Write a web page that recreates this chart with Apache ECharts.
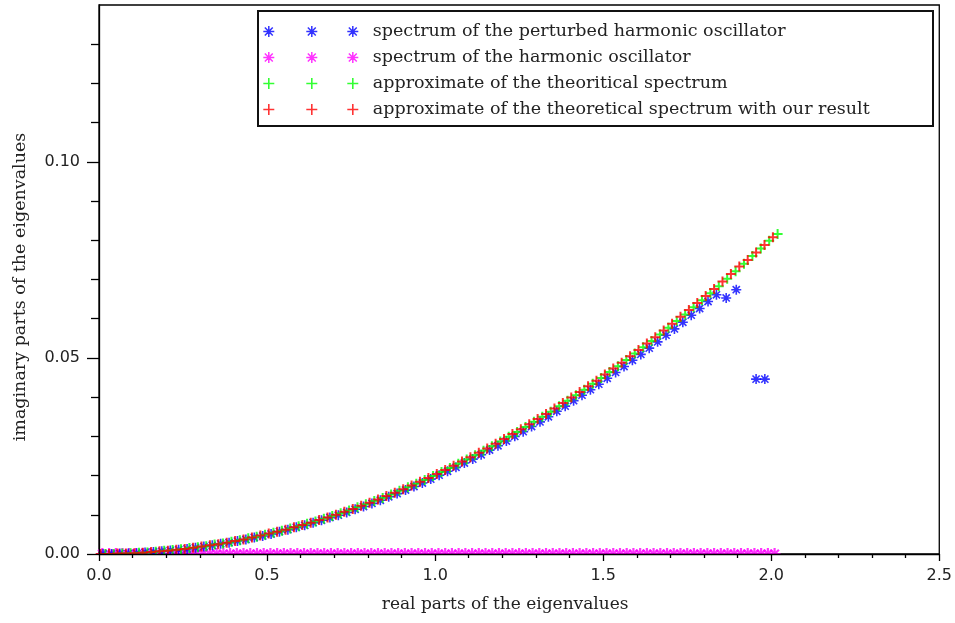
<!DOCTYPE html>
<html>
<head>
<meta charset="utf-8">
<script src="https://cdn.jsdelivr.net/npm/echarts@6/dist/echarts.min.js"></script>
<style>
html,body{margin:0;padding:0;background:#fff;}
#chart{width:955px;height:623px;}
</style>
</head>
<body>
<div id="chart"></div>
<script>
// ---- data ----
// spectrum of the harmonic oscillator (magenta, on the real axis)
const harmonicReal = [0.01,0.03,0.05,0.07,0.09,0.11,0.13,0.15,0.17,0.19,0.21,0.23,0.25,0.27,0.29,0.31,0.33,0.35,0.37,0.39,0.41,0.43,0.45,0.47,0.49,0.51,0.53,0.55,0.57,0.59,0.61,0.63,0.65,0.67,0.69,0.71,0.73,0.75,0.77,0.79,0.81,0.83,0.85,0.87,0.89,0.91,0.93,0.95,0.97,0.99,1.01,1.03,1.05,1.07,1.09,1.11,1.13,1.15,1.17,1.19,1.21,1.23,1.25,1.27,1.29,1.31,1.33,1.35,1.37,1.39,1.41,1.43,1.45,1.47,1.49,1.51,1.53,1.55,1.57,1.59,1.61,1.63,1.65,1.67,1.69,1.71,1.73,1.75,1.77,1.79,1.81,1.83,1.85,1.87,1.89,1.91,1.93,1.95,1.97,1.99,2.01];
const harmonicImag = [0,0,0,0,0,0,0,0,0,0,0,0,0,0,0,0,0,0,0,0,0,0,0,0,0,0,0,0,0,0,0,0,0,0,0,0,0,0,0,0,0,0,0,0,0,0,0,0,0,0,0,0,0,0,0,0,0,0,0,0,0,0,0,0,0,0,0,0,0,0,0,0,0,0,0,0,0,0,0,0,0,0,0,0,0,0,0,0,0,0,0,0,0,0,0,0,0,0,0,0,0];

// approximate of the theoretical spectrum with our result (red)
const ourResultReal = [0.005,0.030,0.055,0.080,0.105,0.130,0.155,0.180,0.205,0.230,0.255,0.280,0.305,0.330,0.355,0.380,0.405,0.430,0.455,0.480,0.505,0.530,0.555,0.580,0.605,0.630,0.655,0.680,0.705,0.730,0.755,0.780,0.805,0.830,0.855,0.880,0.905,0.930,0.955,0.980,1.005,1.030,1.055,1.080,1.105,1.130,1.155,1.180,1.205,1.230,1.255,1.280,1.305,1.330,1.355,1.380,1.405,1.430,1.455,1.480,1.505,1.530,1.555,1.580,1.605,1.630,1.655,1.680,1.705,1.730,1.755,1.780,1.805,1.830,1.855,1.880,1.905,1.930,1.955,1.980,2.005];
const ourResultImag = [0.0000,0.0000,0.0001,0.0001,0.0002,0.0003,0.0005,0.0007,0.0008,0.0011,
0.0013,0.0016,0.0019,0.0022,0.0025,0.0029,0.0033,0.0037,0.0042,0.0047,
0.0052,0.0057,0.0062,0.0068,0.0074,0.0080,0.0087,0.0093,0.0100,0.0108,
0.0115,0.0123,0.0131,0.0139,0.0148,0.0156,0.0165,0.0175,0.0184,0.0194,
0.0204,0.0214,0.0225,0.0236,0.0247,0.0258,0.0269,0.0281,0.0293,0.0306,
0.0318,0.0331,0.0344,0.0357,0.0371,0.0385,0.0399,0.0413,0.0428,0.0442,
0.0458,0.0473,0.0488,0.0504,0.0520,0.0537,0.0553,0.0570,0.0587,0.0605,
0.0622,0.0640,0.0658,0.0676,0.0695,0.0714,0.0733,0.0750,0.0769,0.0788,
0.0808];

// approximate of the theoritical spectrum (green)
const theoryReal = [0.019,0.044,0.069,0.094,0.119,0.144,0.169,0.194,0.219,0.244,0.269,0.294,0.319,0.344,0.369,0.394,0.419,0.444,0.469,0.494,0.519,0.544,0.569,0.594,0.619,0.644,0.669,0.694,0.719,0.744,0.769,0.794,0.819,0.844,0.869,0.894,0.919,0.944,0.969,0.994,1.019,1.044,1.069,1.094,1.119,1.144,1.169,1.194,1.219,1.244,1.269,1.294,1.319,1.344,1.369,1.394,1.419,1.444,1.469,1.494,1.519,1.544,1.569,1.594,1.619,1.644,1.669,1.694,1.719,1.744,1.769,1.794,1.819,1.844,1.869,1.894,1.919,1.944,1.969,1.994,2.019];
const theoryImag = [0.0000,0.0000,0.0001,0.0002,0.0003,0.0004,0.0006,0.0008,0.0010,0.0012,
0.0015,0.0017,0.0020,0.0024,0.0027,0.0031,0.0035,0.0040,0.0044,0.0049,
0.0054,0.0059,0.0065,0.0071,0.0077,0.0083,0.0090,0.0097,0.0104,0.0111,
0.0119,0.0127,0.0135,0.0143,0.0152,0.0161,0.0170,0.0179,0.0189,0.0199,
0.0209,0.0219,0.0230,0.0241,0.0252,0.0263,0.0275,0.0287,0.0299,0.0311,
0.0324,0.0337,0.0350,0.0363,0.0377,0.0391,0.0405,0.0419,0.0434,0.0449,
0.0464,0.0479,0.0495,0.0511,0.0527,0.0543,0.0560,0.0577,0.0594,0.0611,
0.0629,0.0647,0.0665,0.0683,0.0702,0.0721,0.0740,0.0760,0.0779,0.0799,
0.0816];

// spectrum of the perturbed harmonic oscillator (blue)
const perturbedReal = [0.012,0.037,0.062,0.087,0.112,0.137,0.162,0.187,0.212,0.237,0.262,0.287,0.312,0.337,0.362,0.387,0.412,0.437,0.462,0.487,0.512,0.537,0.562,0.587,0.612,0.637,0.662,0.687,0.712,0.737,0.762,0.787,0.812,0.837,0.862,0.887,0.912,0.937,0.962,0.987,1.012,1.037,1.062,1.087,1.112,1.137,1.162,1.187,1.212,1.237,1.262,1.287,1.312,1.337,1.362,1.387,1.412,1.437,1.462,1.487,1.512,1.537,1.562,1.587,1.612,1.637,1.662,1.687,1.712,1.737,1.762,1.787,1.812,1.837,
1.866,1.896,1.955,1.981];
const perturbedImag = [0.0000,0.0000,0.0001,0.0001,0.0002,0.0004,0.0005,0.0007,0.0009,0.0011,
0.0013,0.0016,0.0019,0.0022,0.0026,0.0029,0.0033,0.0037,0.0042,0.0046,
0.0051,0.0057,0.0062,0.0068,0.0073,0.0080,0.0086,0.0093,0.0099,0.0106,
0.0114,0.0121,0.0129,0.0137,0.0146,0.0154,0.0163,0.0172,0.0181,0.0191,
0.0201,0.0211,0.0221,0.0232,0.0242,0.0253,0.0265,0.0276,0.0288,0.0300,
0.0312,0.0325,0.0337,0.0350,0.0364,0.0377,0.0391,0.0405,0.0419,0.0433,
0.0448,0.0463,0.0478,0.0494,0.0509,0.0525,0.0541,0.0558,0.0574,0.0591,
0.0609,0.0626,0.0644,0.0661,
0.0653,0.0674,0.0446,0.0446];

const yMajorTicks = [0, 0.05, 0.10];
const yMinorTicks = [0.01,0.02,0.03,0.04,0.06,0.07,0.08,0.09,0.11,0.12,0.13];

const seriesNames = [
  'spectrum of the perturbed harmonic oscillator',
  'spectrum of the harmonic oscillator',
  'approximate of the theoritical spectrum',
  'approximate of the theoretical spectrum with our result'
];
const seriesColors = ['#0000ff', '#ff00ff', '#00ff00', '#ff0000'];

// ---- marker shapes (R = half size, in path units) ----
const R = 5.5;
function asteriskPath(cx) {
  const d = R * 0.72;
  return 'M' + cx + ' 0V' + (2 * R) + 'M' + (cx - R) + ' ' + R + 'H' + (cx + R) +
         'M' + (cx - d) + ' ' + (R - d) + 'L' + (cx + d) + ' ' + (R + d) +
         'M' + (cx - d) + ' ' + (R + d) + 'L' + (cx + d) + ' ' + (R - d);
}
function plusPath(cx) {
  return 'M' + cx + ' 0V' + (2 * R) + 'M' + (cx - R) + ' ' + R + 'H' + (cx + R);
}
const ASTER = 'path://' + asteriskPath(R);
const PLUS = 'path://' + plusPath(R);
const legendCenters = [R, 48.5, 89.5];
const ASTER3 = 'path://' + legendCenters.map(asteriskPath).join('');
const PLUS3 = 'path://' + legendCenters.map(plusPath).join('');

function pairs(xs, ys) { return xs.map((x, i) => [x, ys[i]]); }
function markStyle(c, w) { return { color: 'rgba(0,0,0,0)', borderColor: c, borderWidth: w }; }

const chart = echarts.init(document.getElementById('chart'), null, { renderer: 'canvas' });

const gridLeft = 99, gridRight = 15, gridTop = 5, gridBottom = 69;
const H = 623, W = 955;

const axisLineStyle = { color: '#000', width: 1.3 };
const option = {
  backgroundColor: '#ffffff',
  animation: false,
  grid: { left: gridLeft, right: gridRight, top: gridTop, bottom: gridBottom,
          show: true, borderColor: '#000', borderWidth: 1.3, backgroundColor: 'transparent' },
  legend: {
    orient: 'vertical', left: 262.5, top: 22.5, padding: 0, itemGap: 8,
    itemWidth: 89.5 + R, itemHeight: 2 * R, selectedMode: false,
    textStyle: { fontFamily: 'DejaVu Serif', fontSize: 17.5, color: '#222', lineHeight: 18, padding: [0, 0, 0, 9.5] },
    data: [
      { name: seriesNames[0], icon: ASTER3, itemStyle: markStyle(seriesColors[0], 1.5) },
      { name: seriesNames[1], icon: ASTER3, itemStyle: markStyle(seriesColors[1], 1.5) },
      { name: seriesNames[2], icon: PLUS3, itemStyle: markStyle(seriesColors[2], 1.6) },
      { name: seriesNames[3], icon: PLUS3, itemStyle: markStyle(seriesColors[3], 1.6) }
    ]
  },
  xAxis: {
    type: 'value', min: 0, max: 2.5, interval: 0.5, z: 10,
    axisLine: { show: true, onZero: false, lineStyle: axisLineStyle },
    axisTick: { show: true, length: 7, lineStyle: axisLineStyle },
    minorTick: { show: true, splitNumber: 5, length: 4, lineStyle: axisLineStyle },
    splitLine: { show: false },
    axisLabel: { fontFamily: 'DejaVu Sans', fontSize: 16, color: '#222', margin: 14,
                 formatter: v => v.toFixed(1) },
    name: 'real parts of the eigenvalues', nameLocation: 'middle', nameGap: 42,
    nameTextStyle: { fontFamily: 'DejaVu Serif', fontSize: 17, color: '#222', padding: [0, 28, 0, 0] }
  },
  yAxis: [
    {
      type: 'value', min: 0, max: 0.14, position: 'left', z: 10,
      axisLine: { show: true, onZero: false, lineStyle: axisLineStyle },
      axisTick: { show: true, length: 12, customValues: yMajorTicks, lineStyle: axisLineStyle },
      splitLine: { show: false },
      axisLabel: { customValues: yMajorTicks, fontFamily: 'DejaVu Sans', fontSize: 16, color: '#222', margin: 19,
                   formatter: v => v.toFixed(2) },
      name: 'imaginary parts of the eigenvalues', nameLocation: 'middle', nameGap: 70,
      nameTextStyle: { fontFamily: 'DejaVu Serif', fontSize: 17.5, color: '#222', padding: [0, 15, 0, 0] }
    },
    {
      type: 'value', min: 0, max: 0.14, position: 'left', z: 10,
      axisLine: { show: false },
      axisTick: { show: true, length: 8, customValues: yMinorTicks, lineStyle: axisLineStyle },
      splitLine: { show: false },
      axisLabel: { show: false }
    }
  ],
  graphic: {
    elements: [
      { type: 'rect', z: 5, silent: true,
        shape: { x: gridLeft - 10, y: H - gridBottom + 0.7, width: W - gridLeft - gridRight + 20, height: 8 },
        style: { fill: '#ffffff' } },
      { type: 'rect', z: 20, silent: true,
        shape: { x: 258, y: 11, width: 675, height: 115 },
        style: { fill: 'none', stroke: '#111', lineWidth: 2 } }
    ]
  },
  series: [
    { name: seriesNames[1], type: 'scatter', symbol: ASTER, symbolSize: 12,
      itemStyle: markStyle(seriesColors[1], 2.2), data: pairs(harmonicReal, harmonicImag) },
    { name: seriesNames[0], type: 'scatter', symbol: ASTER, symbolSize: 10,
      itemStyle: markStyle(seriesColors[0], 1.6), data: pairs(perturbedReal, perturbedImag) },
    { name: seriesNames[2], type: 'scatter', symbol: PLUS, symbolSize: 10,
      itemStyle: markStyle(seriesColors[2], 2), data: pairs(theoryReal, theoryImag) },
    { name: seriesNames[3], type: 'scatter', symbol: PLUS, symbolSize: 10,
      itemStyle: markStyle(seriesColors[3], 2), data: pairs(ourResultReal, ourResultImag) }
  ]
};
chart.setOption(option);
</script>
</body>
</html>
